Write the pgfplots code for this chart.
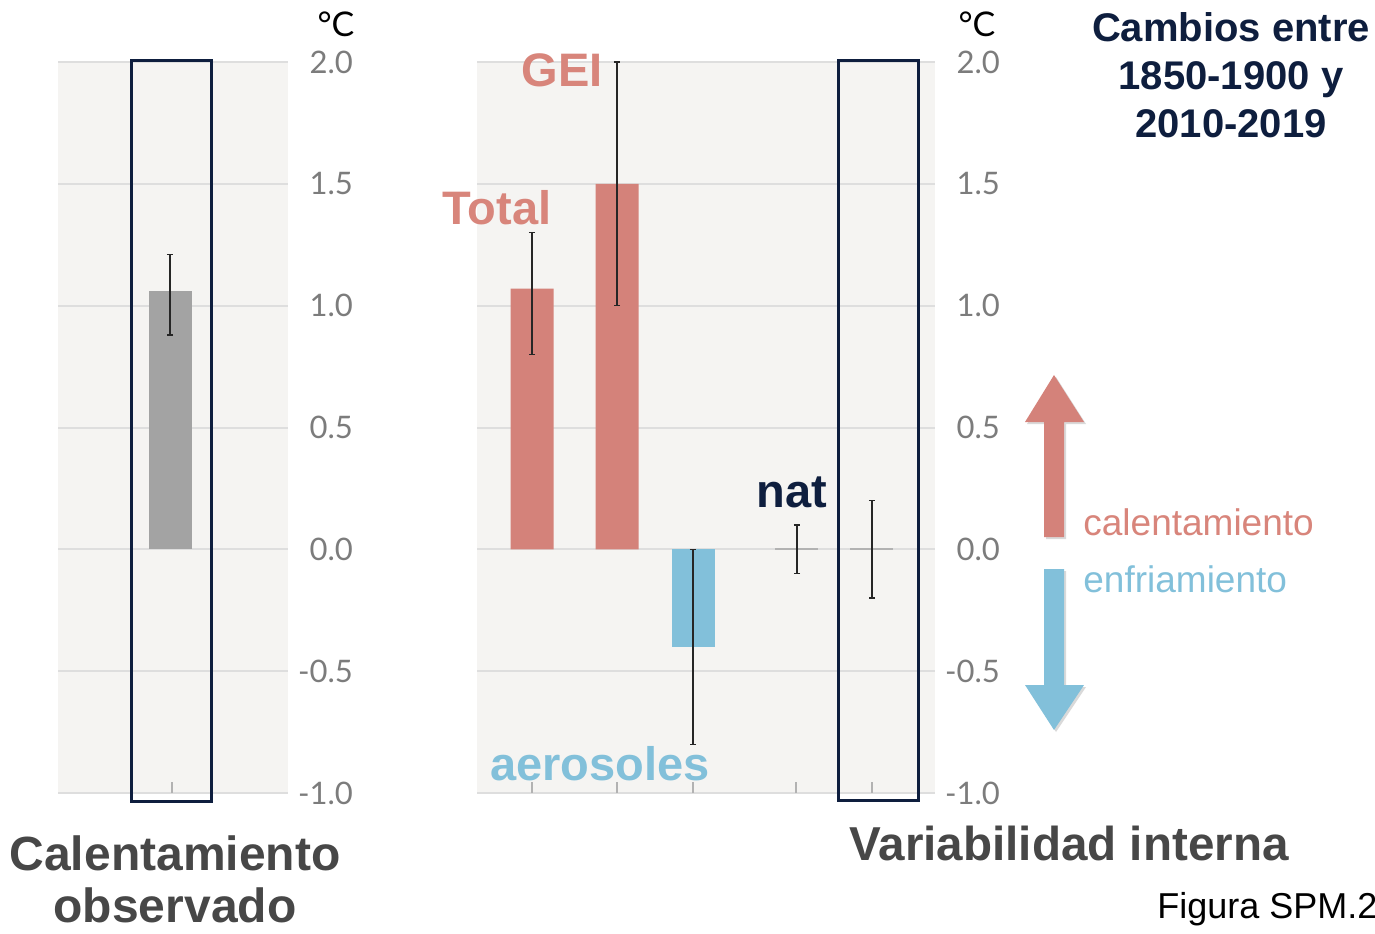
\documentclass[border=0pt]{standalone}
\usepackage{pgfplots}
\pgfplotsset{compat=1.18}
\usepackage{fontspec}
\setmainfont{Liberation Sans}
\newfontfamily\lato{Lato}
\definecolor{salmon}{HTML}{D4827A}
\definecolor{salmontxt}{HTML}{D8857B}
\definecolor{bluec}{HTML}{82C0DA}
\definecolor{navy}{HTML}{0E1E3E}
\definecolor{bgc}{HTML}{F5F4F2}
\definecolor{gridc}{HTML}{DEDEDE}
\definecolor{tickc}{HTML}{7C7C7C}
\definecolor{dgray}{HTML}{474747}
\definecolor{barg}{HTML}{A3A3A3}
\pgfplotsset{
  panel/.style={
    scale only axis, height=365.5pt, ymin=-1, ymax=2,
    axis line style={draw=none},
    axis background/.style={fill=bgc},
    ytick={-1,-0.5,0,0.5,1,1.5,2},
    ymajorgrids, grid style={gridc, line width=1pt},
    ytick style={draw=none},
    yticklabel pos=right,
    yticklabel style={anchor=east, xshift=36pt, font=\lato\fontsize{15.5pt}{15.5pt}\selectfont, text=tickc,
      /pgf/number format/.cd, fixed, fixed zerofill, precision=1, assume math mode=true},
    xtick pos=bottom, tick align=inside, major tick length=5.5pt,
    xtick style={draw=gridc!80!black, line width=1pt},
    xticklabels={},
    clip=false,
  },
  errs/.style={error bars/.cd, y dir=both, y explicit,
    error bar style={line width=0.75pt, black!85},
    error mark options={rotate=90, mark size=1.6pt, line width=0.75pt, black!85}},
}
\begin{document}
\begin{tikzpicture}
\path[use as bounding box] (0,0) rectangle (687.5pt,466.5pt);
\begin{scope}[x=0.5pt, y=-0.5pt, yshift=466.5pt]
\coordinate (PL) at (58,793);
\coordinate (PR) at (477,793);
\end{scope}
% left panel
\begin{axis}[panel, at={(PL)}, anchor=south west, width=115pt, xmin=58, xmax=288, xtick={172}]
\addplot[ybar, bar shift=0pt, bar width=21.5pt, fill=barg, draw=none, errs]
  coordinates {(170,1.06) += (0,0.15) -= (0,0.18)};
\draw[navy, line width=1.5pt] (axis cs:131,2.008) rectangle (axis cs:211,-1.033);
\end{axis}
% right panel
\begin{axis}[panel, at={(PR)}, anchor=south west, width=229pt, xmin=477, xmax=935, xtick={532,617,693,796,872}]
\addplot[ybar, bar shift=0pt, bar width=21.5pt, fill=salmon, draw=none, errs]
  coordinates {(532,1.07) += (0,0.23) -= (0,0.27)
               (617,1.50) += (0,0.50) -= (0,0.50)};
\addplot[ybar, bar shift=0pt, bar width=21.5pt, fill=bluec, draw=none, errs]
  coordinates {(693,-0.40) += (0,0.40) -= (0,0.40)};
\addplot[draw=gray!60, line width=1pt, forget plot] coordinates {(775,0) (818,0)};
\addplot[draw=gray!60, line width=1pt, forget plot] coordinates {(850,0) (893,0)};
\addplot[draw=none, mark=none, errs]
  coordinates {(797,0) += (0,0.10) -= (0,0.10)
               (872,0) += (0,0.20) -= (0,0.20)};
\draw[navy, line width=1.5pt] (axis cs:838,2.008) rectangle (axis cs:918,-1.03);
\end{axis}
\begin{scope}[x=0.5pt, y=-0.5pt, yshift=466.5pt]
% units
\node[font=\lato\fontsize{17pt}{17pt}\selectfont] at (336,24) {°C};
\node[font=\lato\fontsize{17pt}{17pt}\selectfont] at (977,24) {°C};
% title
\node[font=\bfseries\fontsize{20pt}{24pt}\selectfont, text=navy, align=center] at (1231,75)
  {Cambios entre\\1850-1900 y\\2010-2019};
% category labels
\node[font=\bfseries\fontsize{23.5pt}{23.5pt}\selectfont, text=salmontxt] at (562,70) {GEI};
\node[font=\bfseries\fontsize{23.5pt}{23.5pt}\selectfont, text=salmontxt] at (497,208) {Total};
\node[font=\bfseries\fontsize{23.5pt}{23.5pt}\selectfont, text=navy] at (792,492) {nat};
\node[font=\bfseries\fontsize{23.5pt}{23.5pt}\selectfont, text=bluec] at (600,764) {aerosoles};
% bottom labels
\node[font=\bfseries\fontsize{24pt}{24pt}\selectfont, text=dgray, anchor=base] at (175,870) {Calentamiento};
\node[font=\bfseries\fontsize{24pt}{24pt}\selectfont, text=dgray, anchor=base, inner sep=0pt] at (175,922) {observado};
\node[font=\bfseries\fontsize{23.8pt}{23.8pt}\selectfont, text=dgray, anchor=base] at (1069,860) {Variabilidad interna};
\node[font=\fontsize{18pt}{18pt}\selectfont, anchor=base west, inner sep=0pt] at (1157,918) {Figura SPM.2};
% arrows
\fill[black, opacity=0.15] (1046,424) -- (1027,424) -- (1056,377) -- (1086,424) -- (1066,424) -- (1066,539) -- (1046,539) -- cycle;
\fill[salmon] (1044,422) -- (1025,422) -- (1054,375) -- (1084,422) -- (1064,422) -- (1064,537) -- (1044,537) -- cycle;
\fill[black, opacity=0.15] (1046,571) -- (1066,571) -- (1066,687) -- (1086,687) -- (1056,732) -- (1027,687) -- (1046,687) -- cycle;
\fill[bluec] (1044,569) -- (1064,569) -- (1064,685) -- (1084,685) -- (1054,730) -- (1025,685) -- (1044,685) -- cycle;
\node[font=\fontsize{18.5pt}{18.5pt}\selectfont, text=salmontxt, anchor=base west, inner sep=0pt] at (1083,535) {calentamiento};
\node[font=\fontsize{18.5pt}{18.5pt}\selectfont, text=bluec, anchor=base west, inner sep=0pt] at (1083,592) {enfriamiento};
\end{scope}
\end{tikzpicture}
\end{document}
